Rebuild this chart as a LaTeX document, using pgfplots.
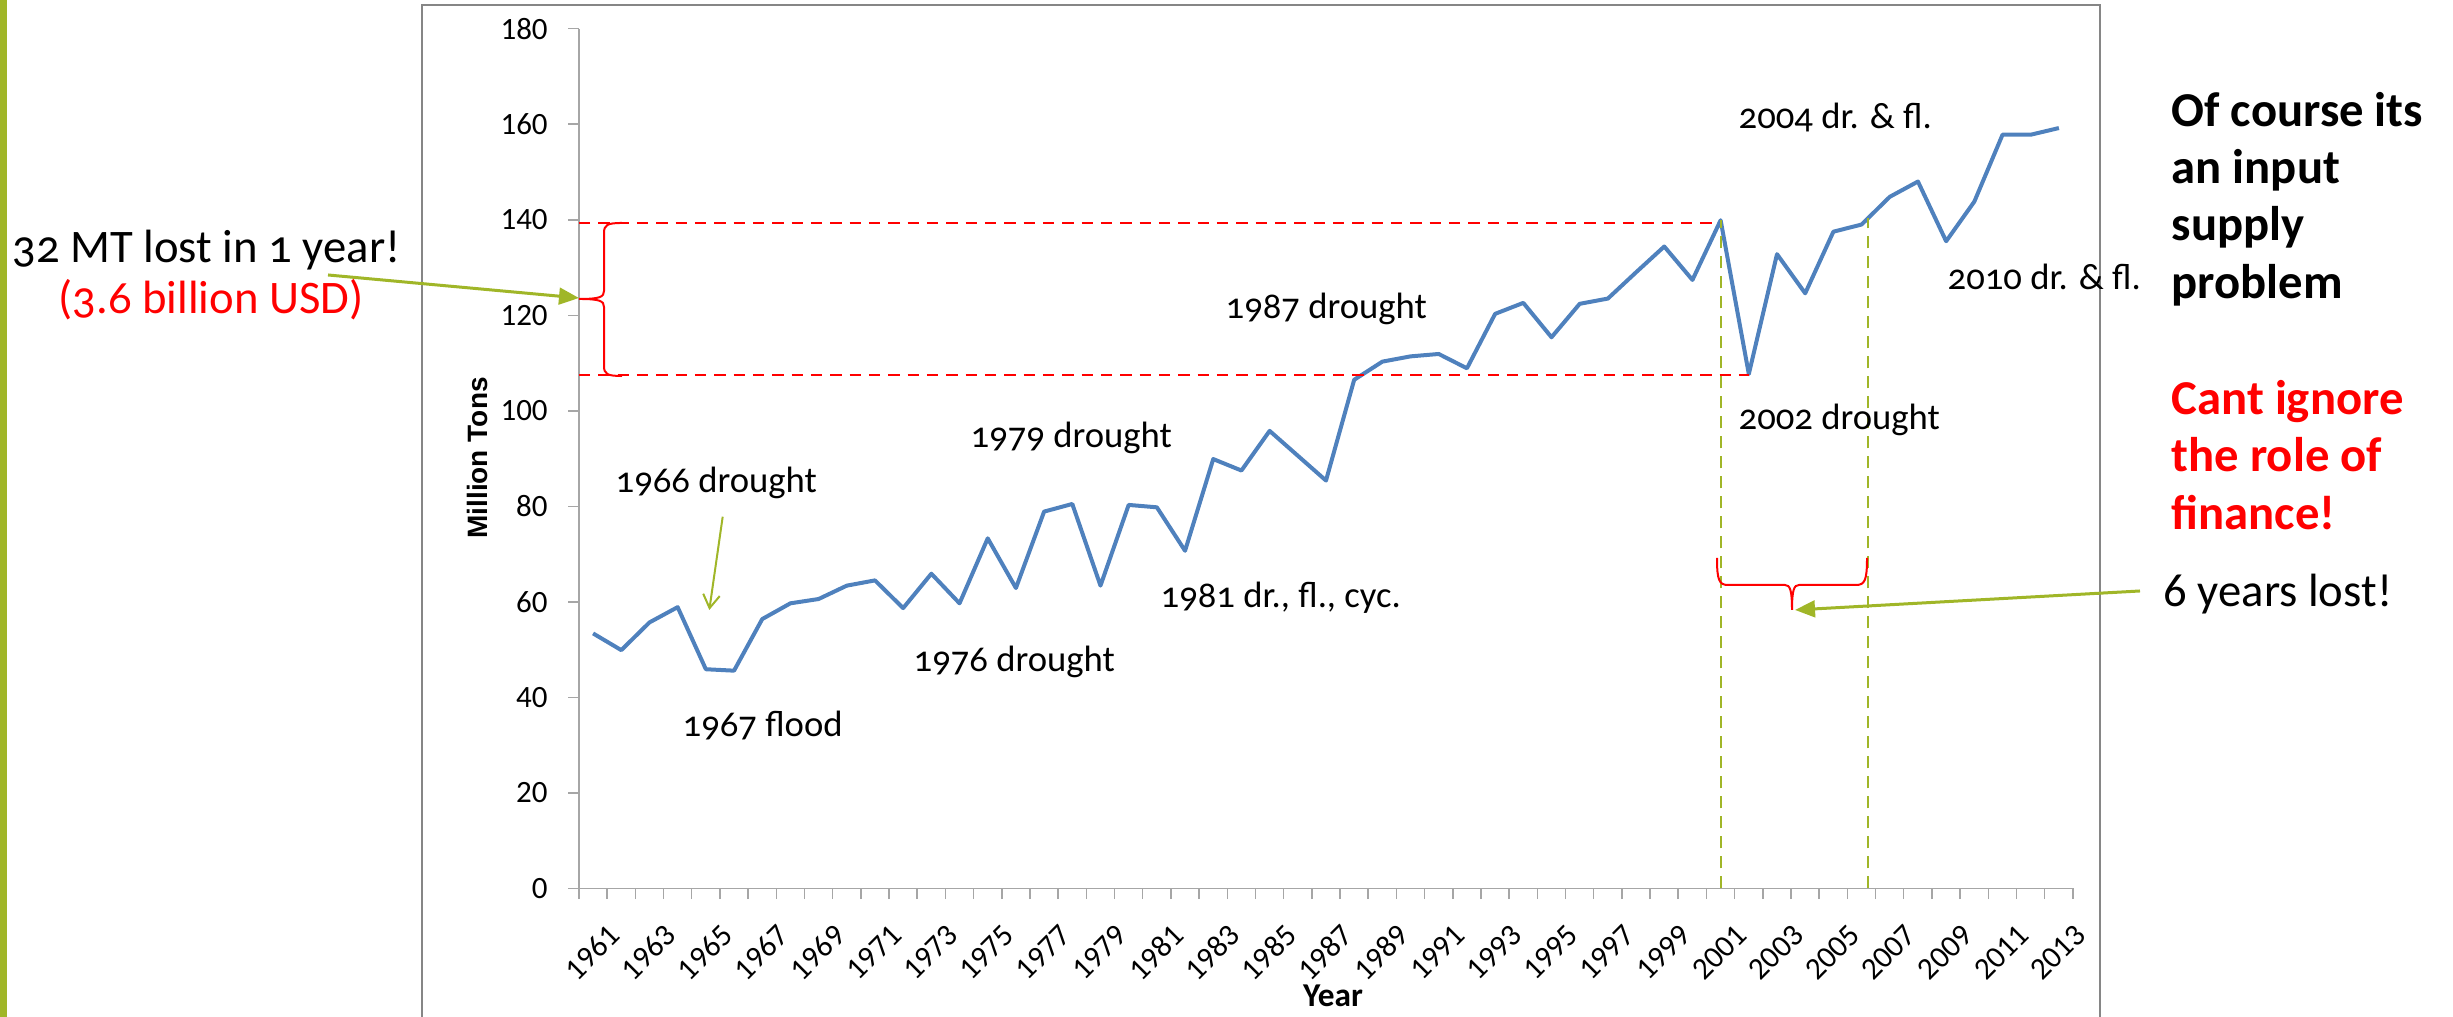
\documentclass[border=0pt]{standalone}
\usepackage{fontspec}
\setmainfont{Carlito}
\newfontfamily\annfont{Carlito}[Numbers=OldStyle]
\newfontfamily\labfont{Liberation Sans}
\usepackage{pgfplots}
\pgfplotsset{compat=1.18}
\usetikzlibrary{arrows.meta}

\definecolor{lineblue}{RGB}{79,129,189}
\definecolor{olivegreen}{RGB}{160,182,40}
\definecolor{axgray}{RGB}{166,166,166}
\definecolor{framegray}{RGB}{134,134,134}

\begin{document}
\begin{tikzpicture}[x=0.3pt,y=0.3pt]
% slide decoration and chart frame
\fill[olivegreen] (0,0) rectangle (7,1017);
\draw[framegray, line width=0.6pt] (422,0) -- (422,1012) -- (2100,1012) -- (2100,0);

\begin{axis}[
  at={(173.7pt,38.55pt)}, anchor=south west, scale only axis,
  width=448.2pt, height=257.94pt,
  xmin=1960.5, xmax=2013.5, ymin=0, ymax=180,
  axis x line*=bottom, axis y line*=left,
  axis line style={axgray, line width=0.45pt},
  tick style={axgray, line width=0.45pt},
  tick align=outside,
  major tick length=3.2pt, minor tick length=3.2pt,
  xtick={1961,1963,...,2013},
  minor xtick={1960.5,1961.5,...,2013.5},
  major x tick style={draw=none},
  ytick={0,20,...,180},
  /pgf/number format/.cd, 1000 sep={}, assume math mode=true,
  /pgfplots/.cd,
  tick label style={font=\fontsize{9.3}{11}\selectfont, inner sep=0pt},
  xticklabel style={xshift=6.5pt, yshift=-9.2pt, rotate=45, anchor=east},
  yticklabel style={anchor=east, xshift=-6pt},
  clip=false,
]
\addplot[lineblue, line width=1.2pt, line join=round] coordinates {
(1961,53.4) (1962,49.9) (1963,55.7) (1964,58.9) (1965,45.9) (1966,45.6)
(1967,56.4) (1968,59.7) (1969,60.6) (1970,63.4) (1971,64.5) (1972,58.7)
(1973,65.9) (1974,59.7) (1975,73.3) (1976,62.9) (1977,78.9) (1978,80.5)
(1979,63.4) (1980,80.3) (1981,79.8) (1982,70.7) (1983,89.9) (1984,87.5)
(1985,95.8) (1986,90.6) (1987,85.4) (1988,106.5) (1989,110.3) (1990,111.4)
(1991,111.9) (1992,108.9) (1993,120.3) (1994,122.6) (1995,115.4) (1996,122.4)
(1997,123.5) (1998,129.0) (1999,134.4) (2000,127.4) (2001,139.9) (2002,107.7)
(2003,132.8) (2004,124.6) (2005,137.5) (2006,139.0) (2007,144.8) (2008,148.0)
(2009,135.5) (2010,143.8) (2011,157.8) (2012,157.8) (2013,159.2)
};
% reference lines
\addplot[red, line width=0.55pt, dash pattern=on 3.4pt off 2.4pt] coordinates {(1960.5,139.3) (2001,139.3)};
\addplot[red, line width=0.55pt, dash pattern=on 3.4pt off 2.4pt] coordinates {(1960.5,107.5) (2002,107.5)};
\addplot[olivegreen, line width=0.6pt, dash pattern=on 3.6pt off 2.4pt] coordinates {(2001,0) (2001,139.9)};
\addplot[olivegreen, line width=0.6pt, dash pattern=on 3.6pt off 2.4pt] coordinates {(2006.23,0) (2006.23,140.4)};
\end{axis}

% braces (hand drawn like the slide's shapes)
\draw[red, line width=0.6pt]
  (622,794) .. controls (607,794) and (604,792) .. (604,784) -- (604,726)
  .. controls (604,720) and (600,718) .. (579,718)
  .. controls (600,718) and (604,716) .. (604,710) -- (604,651)
  .. controls (604,643) and (607,641) .. (622,641);
\draw[red, line width=0.6pt]
  (1717,459) .. controls (1717,437) and (1719,432) .. (1728,432) -- (1785,432)
  .. controls (1790,432) and (1792,427) .. (1792,407)
  .. controls (1792,427) and (1794,432) .. (1799,432) -- (1856,432)
  .. controls (1865,432) and (1867,437) .. (1867,459);

% axis titles
\node[rotate=90, inner sep=0pt, font=\labfont\bfseries\fontsize{8.4}{10}\selectfont] at (477,559) {Million Tons};
\node[inner sep=0pt, font=\bfseries\fontsize{10}{12}\selectfont] at (1333,21) {Year};

% arrows
\draw[olivegreen, line width=0.9pt, -{Triangle[length=6pt,width=5pt]}] (328,742) -- (579,719);
\draw[olivegreen, line width=0.9pt, -{Triangle[length=6pt,width=5pt]}] (2140,426) -- (1795,407);
\draw[olivegreen, line width=0.6pt, -{Straight Barb[length=4pt,width=5pt]}] (722.7,500.3) -- (709.3,407);

% event labels
\begin{scope}[every node/.style={inner sep=0pt, anchor=west, font=\annfont\fontsize{11}{13}\selectfont}]
\node at (615,534) {1966 drought};
\node at (682,291) {1967 flood};
\node at (913,355) {1976 drought};
\node at (970,579) {1979 drought};
\node at (1160,419.5) {1981 dr., fl., cyc.};
\node at (1225,708) {1987 drought};
\node at (1738,597) {2002 drought};
\node at (1738,899) {2004 dr. \& fl.};
\node at (1947,740) {2010 dr. \& fl.};
\end{scope}

% left callout
\node[inner sep=0pt, anchor=west, font=\annfont\fontsize{14}{16}\selectfont] at (12,767) {32 MT lost in 1 year!};
\node[inner sep=0pt, red, font=\annfont\fontsize{14}{16}\selectfont] at (211,717) {(3.6 billion USD)};

% right side text
\begin{scope}[every node/.style={inner sep=0pt, anchor=base west, font=\bfseries\fontsize{14.6}{17}\selectfont}]
\node at (2171,890) {Of course its};
\node at (2171,833) {an input};
\node at (2171,776) {supply};
\node at (2171,718) {problem};
\node[red] at (2171,602) {Cant ignore};
\node[red] at (2171,545) {the role of};
\node[red] at (2171,487) {finance!};
\end{scope}
\node[inner sep=0pt, anchor=base west, font=\fontsize{14}{16}\selectfont] at (2163,410) {6 years lost!};

\pgfresetboundingbox
\useasboundingbox (0,0) rectangle (2453,1017);
\end{tikzpicture}
\end{document}
